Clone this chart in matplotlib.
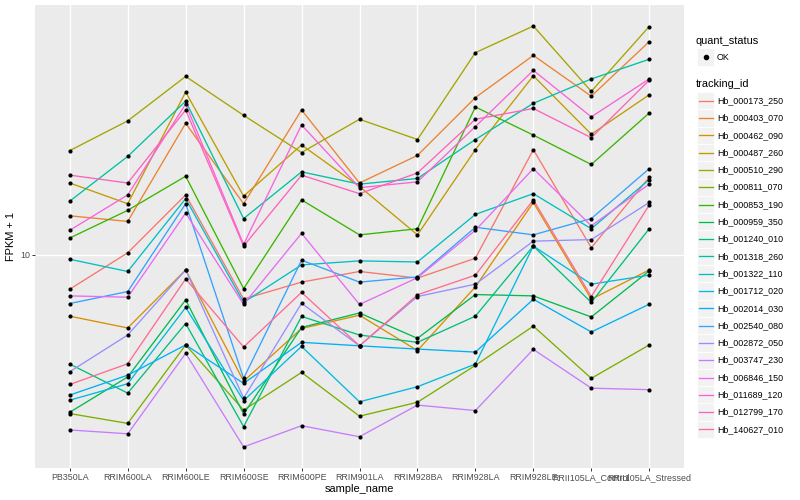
import numpy as np
import matplotlib
matplotlib.use("Agg")
import matplotlib.pyplot as plt
from matplotlib.patches import Rectangle
from matplotlib.lines import Line2D
from matplotlib.ticker import FixedLocator, NullLocator, FixedFormatter

plt.rcParams['font.family'] = ['Liberation Sans', 'DejaVu Sans']

# ---------------- data ----------------
samples = ['PB350LA', 'RRIM600LA', 'RRIM600LE', 'RRIM600SE', 'RRIM600PE',
           'RRIM901LA', 'RRIM928BA', 'RRIM928LA', 'RRIM928LE',
           'RRII105LA_Control', 'RRII105LA_Stressed']

tracking_ids = ['Hb_000173_250', 'Hb_000403_070', 'Hb_000462_090', 'Hb_000487_260',
                'Hb_000510_290', 'Hb_000811_070', 'Hb_000853_190', 'Hb_000959_350',
                'Hb_001240_010', 'Hb_001318_260', 'Hb_001322_110', 'Hb_001712_020',
                'Hb_002014_030', 'Hb_002540_080', 'Hb_002872_050', 'Hb_003747_230',
                'Hb_006846_150', 'Hb_011689_120', 'Hb_012799_170', 'Hb_140627_010']

# FPKM + 1 per sample (same order as samples)
Hb_000173_250 = [8.19, 10.1, 14.1, 7.74, 8.53, 9.07, 8.73, 9.79, 18.3, 10.4, 15.6]
Hb_000403_070 = [12.5, 12.1, 21.3, 13.4, 23.0, 15.1, 17.7, 24.7, 31.5, 24.9, 34.1]
Hb_000462_090 = [7.01, 6.55, 9.15, 4.82, 6.53, 7.05, 5.75, 8.30, 13.5, 7.73, 9.15]
Hb_000487_260 = [15.1, 13.4, 25.5, 14.0, 18.8, 14.8, 11.2, 18.3, 28.0, 20.0, 25.1]
Hb_000510_290 = [18.2, 21.6, 27.9, 22.3, 18.0, 21.8, 19.4, 32.0, 37.3, 25.6, 37.2]
Hb_000811_070 = [4.00, 3.78, 5.94, 4.08, 5.07, 3.94, 4.27, 5.28, 6.62, 4.90, 5.94]
Hb_000853_190 = [11.0, 12.9, 15.7, 8.22, 13.7, 11.2, 11.6, 23.4, 19.9, 16.8, 22.6]
Hb_000959_350 = [4.03, 4.94, 7.70, 3.99, 6.57, 7.14, 6.17, 7.94, 7.88, 6.98, 9.10]
Hb_001240_010 = [5.32, 4.50, 6.72, 3.71, 7.00, 6.29, 6.03, 7.01, 10.5, 7.59, 11.6]
Hb_001318_260 = [13.6, 17.6, 24.2, 12.3, 16.1, 15.0, 15.5, 19.4, 23.9, 27.5, 30.8]
Hb_001322_110 = [9.73, 9.07, 13.8, 7.59, 9.42, 9.64, 9.58, 12.6, 14.2, 11.6, 15.4]
Hb_001712_020 = [4.32, 4.75, 7.37, 4.31, 5.89, 4.28, 4.67, 5.32, 10.5, 8.43, 8.88]
Hb_002014_030 = [4.45, 4.99, 5.94, 4.76, 6.03, 5.91, 5.80, 5.70, 7.73, 6.40, 7.51]
Hb_002540_080 = [7.54, 8.08, 13.4, 4.90, 9.68, 8.53, 8.79, 11.7, 11.2, 12.3, 16.4]
Hb_002872_050 = [5.09, 6.29, 9.15, 4.37, 7.55, 5.91, 7.85, 8.43, 10.8, 10.9, 13.5]
Hb_003747_230 = [3.64, 3.56, 5.66, 3.30, 3.73, 3.50, 4.20, 4.07, 5.79, 4.63, 4.59]
Hb_006846_150 = [7.88, 7.82, 12.7, 7.50, 11.3, 7.50, 8.75, 11.5, 16.4, 11.8, 15.0]
Hb_011689_120 = [11.5, 14.1, 23.8, 10.6, 21.1, 14.7, 15.2, 20.9, 28.9, 22.1, 27.5]
Hb_012799_170 = [15.8, 15.1, 23.0, 10.5, 15.8, 14.2, 16.0, 21.8, 23.2, 19.6, 27.3]
Hb_140627_010 = [4.73, 5.33, 8.69, 5.87, 8.04, 5.91, 7.93, 8.88, 13.7, 7.85, 13.3]

series = [Hb_000173_250, Hb_000403_070, Hb_000462_090, Hb_000487_260, Hb_000510_290,
          Hb_000811_070, Hb_000853_190, Hb_000959_350, Hb_001240_010, Hb_001318_260,
          Hb_001322_110, Hb_001712_020, Hb_002014_030, Hb_002540_080, Hb_002872_050,
          Hb_003747_230, Hb_006846_150, Hb_011689_120, Hb_012799_170, Hb_140627_010]

colors = ['#F8766D', '#EA8331', '#D89000', '#C09B00', '#A3A500', '#7CAE00', '#39B600',
          '#00BB4E', '#00BF7D', '#00C1A3', '#00BFC4', '#00BAE0', '#00B0F6', '#35A2FF',
          '#9590FF', '#C77CFF', '#E76BF3', '#FA62DB', '#FF62BC', '#FF6C91']

# ---------------- figure ----------------
W, H = 800, 500
fig = plt.figure(figsize=(W / 100, H / 100), dpi=100)

def fx(px):
    return px / W

def fy(py):
    return 1 - py / H

px_left, px_right, px_top, px_bottom = 35, 684, 5, 468
ax = fig.add_axes([fx(px_left), fy(px_bottom), (px_right - px_left) / W, (px_bottom - px_top) / H])
ax.set_facecolor('#EBEBEB')
for s in ax.spines.values():
    s.set_visible(False)

x = np.arange(len(samples))
for vals, c in zip(series, colors):
    ax.plot(x, vals, color=c, lw=0.95, zorder=3, solid_capstyle='butt')
for vals in series:
    ax.scatter(x, vals, s=9, color='black', zorder=4, linewidths=0)

ax.set_yscale('log')
allv = np.concatenate([np.asarray(v, float) for v in series])
lo, hi = np.log10(allv.min()), np.log10(allv.max())
pad = 0.05 * (hi - lo)
ax.set_ylim(10 ** (lo - pad), 10 ** (hi + pad))
ax.set_xlim(-0.6, len(samples) - 1 + 0.6)

ax.yaxis.set_major_locator(FixedLocator([10]))
ax.yaxis.set_major_formatter(FixedFormatter(['10']))
ax.yaxis.set_minor_locator(NullLocator())
ax.set_xticks(x)
ax.set_xticklabels(samples)
ax.tick_params(axis='both', which='major', length=2.0, width=0.7, color='#333333',
               labelsize=6.4, labelcolor='#4D4D4D', pad=1.5)
ax.grid(True, which='major', color='white', lw=1.0, zorder=0)
ax.set_axisbelow(True)

ax.set_xlabel('sample_name', fontsize=7.9, color='black', labelpad=1.5)
ax.set_ylabel('FPKM + 1', fontsize=7.9, color='black', labelpad=3)

# ---------------- legend ----------------
key_x0, key_w = 697, 17.3
text_x = 717
fig.text(fx(696), fy(40.7), 'quant_status', fontsize=7.9, va='center', ha='left')
fig.patches.append(Rectangle((fx(key_x0), fy(57 + key_w / 2)), key_w / W, key_w / H,
                             transform=fig.transFigure, facecolor='#F2F2F2',
                             edgecolor='white', lw=0.6))
fig.lines.append(Line2D([fx(key_x0 + key_w / 2)], [fy(57)], marker='o', markersize=3.0,
                        color='black', linestyle='none', transform=fig.transFigure))
fig.text(fx(text_x), fy(57), 'OK', fontsize=6.4, va='center', ha='left')

fig.text(fx(696), fy(84), 'tracking_id', fontsize=7.9, va='center', ha='left')
for i, (lab, c) in enumerate(zip(tracking_ids, colors)):
    yc = 100.7 + i * 17.3
    fig.patches.append(Rectangle((fx(key_x0), fy(yc + key_w / 2)), key_w / W, key_w / H,
                                 transform=fig.transFigure, facecolor='#F2F2F2',
                                 edgecolor='white', lw=0.6))
    fig.lines.append(Line2D([fx(key_x0 + 1.7), fx(key_x0 + key_w - 1.7)], [fy(yc), fy(yc)],
                            color=c, lw=0.95, transform=fig.transFigure))
    fig.text(fx(text_x), fy(yc), lab, fontsize=6.4, va='center', ha='left')

fig.savefig('out.png', dpi=100)
